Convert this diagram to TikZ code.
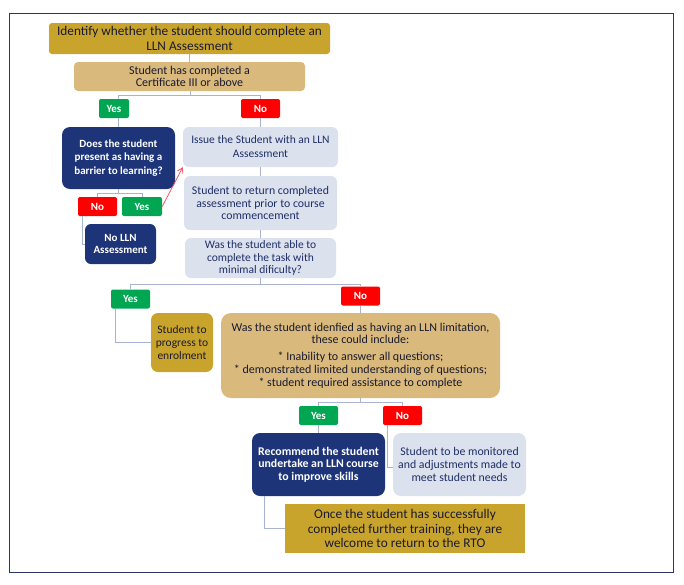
\documentclass[tikz,border=0pt]{standalone}
\usepackage{fontspec}
\setmainfont{Carlito}
\usetikzlibrary{arrows.meta}
\definecolor{gold}{HTML}{C9A42C}
\definecolor{tan}{HTML}{D9B97C}
\definecolor{navy}{HTML}{1E3479}
\definecolor{light}{HTML}{DCE1EE}
\definecolor{ygreen}{HTML}{00A651}
\definecolor{nred}{HTML}{FF0000}
\definecolor{conn}{HTML}{A8B3CF}
\definecolor{txtdark}{HTML}{1A1A2E}
\definecolor{txtnavy}{HTML}{1E2F66}
\definecolor{frame}{HTML}{2A3566}
\definecolor{arrowred}{HTML}{EE5566}
\tikzset{
  base/.style={align=center, inner sep=0pt, anchor=center},
  goldbox/.style={base, fill=gold, text=txtdark},
  tanbox/.style={base, fill=tan, text=txtdark},
  navybox/.style={base, fill=navy, text=white},
  lightbox/.style={base, fill=light, text=txtnavy},
  yeslab/.style={base, fill=ygreen, text=white, rounded corners=2pt, minimum height=19pt, minimum width=39pt, font=\bfseries\fontsize{11}{12}\selectfont},
  nolab/.style={base, fill=nred, text=white, rounded corners=2pt, minimum height=19pt, minimum width=39pt, font=\bfseries\fontsize{11}{12}\selectfont},
  link/.style={draw=conn, line width=0.9pt},
}
\begin{document}
\begin{tikzpicture}[x=1pt,y=-1pt]
\useasboundingbox (0,0) rectangle (684,584);
\draw[frame, line width=0.8pt] (9,13) rectangle (673,572);

\node[goldbox, rounded corners=3pt, minimum width=281pt, minimum height=31pt, font=\fontsize{13.3}{14.3}\selectfont] (title) at (189.5,38.5) {Identify whether the student should complete an\\LLN Assessment};
\node[tanbox, rounded corners=4pt, minimum width=231pt, minimum height=29pt, font=\fontsize{12}{11.8}\selectfont] (cert) at (189.5,76.5) {Student has completed a\\Certificate III or above};

\node[yeslab, minimum width=30pt] (yes1) at (114,108.5) {Yes};
\node[nolab] (no1) at (260.5,108.5) {No};

\node[navybox, rounded corners=8pt, minimum width=113pt, minimum height=62pt, font=\bfseries\fontsize{11}{13.3}\selectfont] (does) at (118.5,158) {Does the student\\present as having a\\barrier to learning?};
\node[lightbox, rounded corners=6pt, minimum width=155pt, minimum height=40pt, font=\fontsize{11.5}{14}\selectfont] (issue) at (260.5,147) {Issue the Student with an LLN\\Assessment};
\node[lightbox, rounded corners=6pt, minimum width=153pt, minimum height=54pt, font=\fontsize{11.8}{12.7}\selectfont] (ret) at (260.5,203) {Student to return completed\\assessment prior to course\\commencement};
\node[lightbox, rounded corners=6pt, minimum width=151pt, minimum height=40pt, font=\fontsize{11.5}{12.5}\selectfont] (was) at (260.5,258) {Was the student able to\\complete the task with\\minimal dificulty?};

\node[nolab] (no1b) at (97.5,206.5) {No};
\node[yeslab, minimum width=40pt] (yes1b) at (142,206.5) {Yes};
\node[navybox, rounded corners=6pt, minimum width=71pt, minimum height=40pt, font=\bfseries\fontsize{11}{12.7}\selectfont] (nolln) at (120.5,244) {No LLN\\Assessment};

\node[yeslab] (yes2) at (130.5,299) {Yes};
\node[nolab] (no2) at (360.5,296) {No};
\node[goldbox, rounded corners=7pt, minimum width=62pt, minimum height=59pt, font=\fontsize{11.5}{13}\selectfont] (prog) at (182,342.5) {Student to\\progress to\\enrolment};
\node[tanbox, rounded corners=10pt, minimum width=279pt, minimum height=85pt, font=\fontsize{12}{12.7}\selectfont] (lim) at (360.5,355.5) {Was the student idenfied as having an LLN limitation,\\these could include:\\[4.5pt]* Inability to answer all questions;\\* demonstrated limited understanding of questions;\\* student required assistance to complete};

\node[yeslab] (yes3) at (318.5,415.5) {Yes};
\node[nolab] (no3) at (402.5,415.5) {No};
\node[navybox, rounded corners=8pt, minimum width=133pt, minimum height=63pt, font=\bfseries\fontsize{11.8}{12.7}\selectfont] (rec) at (318.5,464.5) {Recommend the student\\undertake an LLN course\\to improve skills};
\node[lightbox, rounded corners=8pt, minimum width=133pt, minimum height=63pt, font=\fontsize{11.8}{13}\selectfont] (mon) at (459.5,464.5) {Student to be monitored\\and adjustments made to\\meet student needs};
\node[goldbox, minimum width=240pt, minimum height=49pt, font=\fontsize{13.3}{14.7}\selectfont] (once) at (405,528.5) {Once the student has successfully\\completed further training, they are\\welcome to return to the RTO};

% connectors
\draw[link] (title.south) -- (cert.north);
\coordinate (c1) at (190,95);
\draw[link] (cert.south -| c1) -- (c1) -| (does.north |- yes1.north);
\draw[link] (c1) -| (no1.north);
\draw[link] (does.north |- yes1.south) -- (does.north);
\draw[link] (no1.south) -- (issue.north);
\draw[link] (issue.south) -- (ret.north);
\draw[link] (ret.south) -- (was.north);
\coordinate (c2) at (118.5,193);
\draw[link] (does.south) -- (c2) -| (no1b.north);
\draw[link] (c2) -| (yes1b.north);
\coordinate (c3) at (82,244);
\draw[link] (no1b.south -| c3) -- (c3) -- (nolln.west);
\draw[-{Straight Barb[length=5pt,width=6pt]}, arrowred, line width=0.8pt] (yes1b.east) -- (issue.south west);

\coordinate (c4) at (260.5,284);
\draw[link] (was.south) -- (c4) -| (yes2.north);
\draw[link] (c4) -| (no2.north);
\coordinate (c5) at (115,342.5);
\draw[link] (yes2.south -| c5) -- (c5) -- (prog.west);
\draw[link] (no2.south) -- (lim.north);
\coordinate (c6) at (360.5,402);
\draw[link] (lim.south) -- (c6) -| (yes3.north);
\draw[link] (c6) -| (no3.north);
\draw[link] (yes3.south) -- (rec.north);
\coordinate (c7) at (387,467);
\draw[link] (no3.south -| c7) -- (c7) -- (mon.west |- c7);
\coordinate (c8) at (264,528.5);
\draw[link] (rec.south -| c8) -- (c8) -- (once.west);
\end{tikzpicture}
\end{document}
